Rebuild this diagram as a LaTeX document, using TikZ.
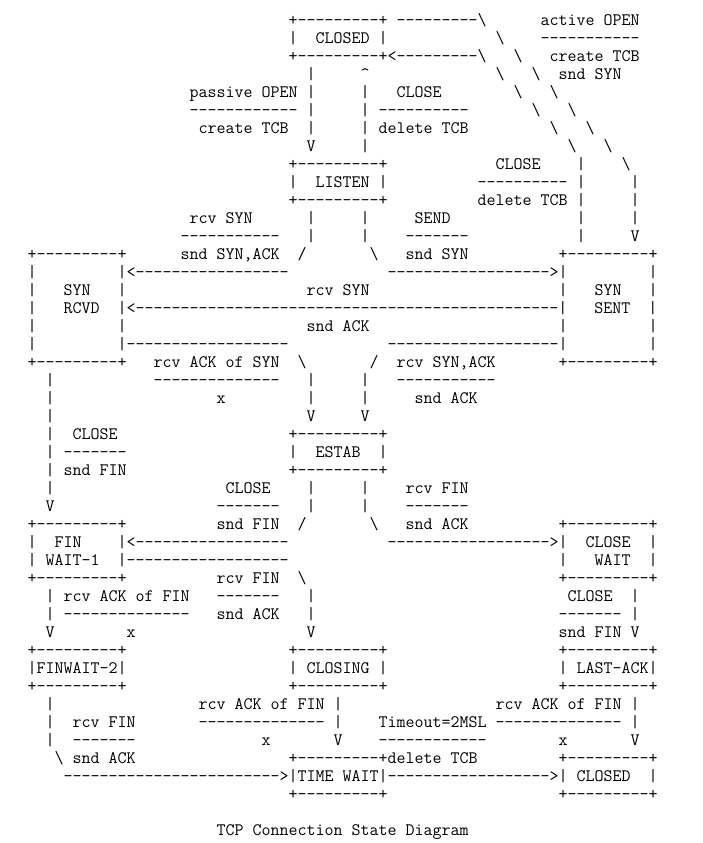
\documentclass[tikz,border=0pt]{standalone}
\newlength\gw
\newcommand\D[1]{\ifnum#1>0 -\kern0pt\relax\expandafter\D\expandafter{\the\numexpr#1-1\relax}\fi}
\newcommand\bx{+\D{9}+}
\newcommand\bs{\textbackslash}
\newcommand\fsz{17.14}
\AtBeginDocument{\settowidth\gw{\fontsize{17.14pt}{18pt}\ttfamily\selectfont -}\pgfmathsetmacro\fsz{17.14*9/\gw}\xdef\fsz{\fsz}}
\newcommand\gfont{\fontsize{\fsz pt}{18pt}\ttfamily}
\tikzset{tt/.style={anchor=base west,inner sep=0pt,outer sep=0pt,font=\gfont,text=black}}
\newcommand\T[3]{\node[tt] (t#1-#2) at ({18.5+9*#2},{25.5+18*#1}) {#3};}
\begin{document}
\begin{tikzpicture}[x=1pt,y=-1pt]
\fill[white] (0,0) rectangle (703,843);
\useasboundingbox (0,0) rectangle (703,843);
% row 0
\T{0}{30}{\bx}\T{0}{42}{\D{9}\bs}\T{0}{58}{active OPEN}
\T{1}{30}{|~~CLOSED~|}\T{1}{53}{\bs}\T{1}{58}{\D{11}}
\T{2}{30}{\bx<\D{9}\bs}\T{2}{55}{\bs}\T{2}{59}{create TCB}
\T{3}{32}{|}\T{3}{38}{\textasciicircum}\T{3}{53}{\bs}\T{3}{57}{\bs}\T{3}{60}{snd SYN}
\T{4}{19}{passive OPEN}\T{4}{32}{|}\T{4}{38}{|}\T{4}{42}{CLOSE}\T{4}{55}{\bs}\T{4}{59}{\bs}
\T{5}{19}{\D{12}}\T{5}{32}{|}\T{5}{38}{|}\T{5}{40}{\D{10}}\T{5}{57}{\bs}\T{5}{61}{\bs}
\T{6}{20}{create TCB}\T{6}{32}{|}\T{6}{38}{|}\T{6}{40}{delete TCB}\T{6}{59}{\bs}\T{6}{63}{\bs}
\T{7}{32}{V}\T{7}{38}{|}\T{7}{61}{\bs}\T{7}{65}{\bs}
\T{8}{30}{\bx}\T{8}{53}{CLOSE}\T{8}{62}{|}\T{8}{67}{\bs}
\T{9}{30}{|~~LISTEN~|}\T{9}{51}{\D{10}}\T{9}{62}{|}\T{9}{68}{|}
\T{10}{30}{\bx}\T{10}{51}{delete TCB}\T{10}{62}{|}\T{10}{68}{|}
\T{11}{19}{rcv SYN}\T{11}{32}{|}\T{11}{38}{|}\T{11}{44}{SEND}\T{11}{62}{|}\T{11}{68}{|}
\T{12}{18}{\D{11}}\T{12}{32}{|}\T{12}{38}{|}\T{12}{43}{\D{7}}\T{12}{62}{|}\T{12}{68}{V}
\T{13}{1}{\bx}\T{13}{18}{snd SYN,ACK}\T{13}{31}{/}\T{13}{39}{\bs}\T{13}{43}{snd SYN}\T{13}{60}{\bx}
\T{14}{1}{|}\T{14}{11}{|<\D{17}}\T{14}{41}{\D{18}>|}\T{14}{70}{|}
\T{15}{1}{|~~~SYN~~~|}\T{15}{32}{rcv SYN}\T{15}{60}{|~~~SYN~~~|}
\T{16}{1}{|~~~RCVD~~|<\D{47}|~~~SENT~~|}
\T{17}{1}{|~~~~~~~~~|}\T{17}{32}{snd ACK}\T{17}{60}{|~~~~~~~~~|}
\T{18}{1}{|~~~~~~~~~|\D{18}}\T{18}{41}{\D{19}|~~~~~~~~~|}
\T{19}{1}{\bx}\T{19}{15}{rcv ACK of SYN}\T{19}{31}{\bs}\T{19}{39}{/}\T{19}{42}{rcv SYN,ACK}\T{19}{60}{\bx}
\T{20}{3}{|}\T{20}{15}{\D{14}}\T{20}{32}{|}\T{20}{38}{|}\T{20}{42}{\D{11}}
\T{21}{3}{|}\T{21}{22}{x}\T{21}{32}{|}\T{21}{38}{|}\T{21}{44}{snd ACK}
\T{22}{3}{|}\T{22}{32}{V}\T{22}{38}{V}
\T{23}{3}{|}\T{23}{6}{CLOSE}\T{23}{30}{\bx}
\T{24}{3}{|}\T{24}{5}{\D{7}}\T{24}{30}{|~~ESTAB~~|}
\T{25}{3}{|}\T{25}{5}{snd FIN}\T{25}{30}{\bx}
\T{26}{3}{|}\T{26}{23}{CLOSE}\T{26}{32}{|}\T{26}{38}{|}\T{26}{43}{rcv FIN}
\T{27}{3}{V}\T{27}{22}{\D{7}}\T{27}{32}{|}\T{27}{38}{|}\T{27}{43}{\D{7}}
\T{28}{1}{\bx}\T{28}{22}{snd FIN}\T{28}{31}{/}\T{28}{39}{\bs}\T{28}{43}{snd ACK}\T{28}{60}{\bx}
\T{29}{1}{|~~FIN~~~~|<\D{17}}\T{29}{41}{\D{18}>|~~CLOSE~~|}
\T{30}{1}{|~WAIT-1~~|\D{18}}\T{30}{60}{|~~~WAIT~~|}
\T{31}{1}{\bx}\T{31}{22}{rcv FIN}\T{31}{31}{\bs}\T{31}{60}{\bx}
\T{32}{3}{|}\T{32}{5}{rcv ACK of FIN}\T{32}{22}{\D{7}}\T{32}{32}{|}\T{32}{61}{CLOSE}\T{32}{68}{|}
\T{33}{3}{|}\T{33}{5}{\D{14}}\T{33}{22}{snd ACK}\T{33}{32}{|}\T{33}{60}{\D{7}}\T{33}{68}{|}
\T{34}{3}{V}\T{34}{12}{x}\T{34}{32}{V}\T{34}{60}{snd FIN V}
\T{35}{1}{\bx}\T{35}{30}{\bx}\T{35}{60}{\bx}
\T{36}{1}{|FINWAIT-2|}\T{36}{30}{|~CLOSING~|}\T{36}{60}{|~LAST-ACK|}
\T{37}{1}{\bx}\T{37}{30}{\bx}\T{37}{60}{\bx}
\T{38}{3}{|}\T{38}{20}{rcv ACK of FIN |}\T{38}{53}{rcv ACK of FIN |}
\T{39}{3}{|}\T{39}{6}{rcv FIN}\T{39}{20}{\D{14}}\T{39}{35}{|}\T{39}{40}{Timeout=2MSL}\T{39}{53}{\D{14}}\T{39}{68}{|}
\T{40}{3}{|}\T{40}{6}{\D{7}}\T{40}{27}{x}\T{40}{35}{V}\T{40}{40}{\D{12}}\T{40}{60}{x}\T{40}{68}{V}
\T{41}{4}{\bs}\T{41}{6}{snd ACK}\T{41}{30}{\bx delete TCB}\T{41}{60}{\bx}
\T{42}{5}{\D{24}>|TIME WAIT|\D{18}>|~CLOSED~~|}
\T{43}{30}{\bx}\T{43}{60}{\bx}
\T{45}{22}{TCP Connection State Diagram}
\end{tikzpicture}
\end{document}
